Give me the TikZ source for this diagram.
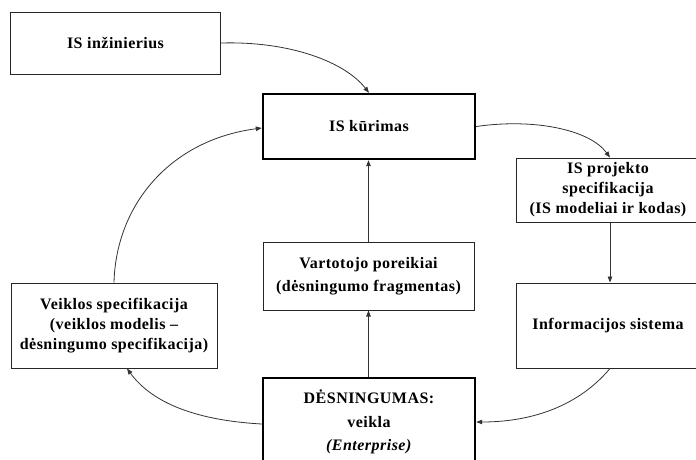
\documentclass[tikz,border=0pt]{standalone}
\usepackage{fontspec}
\setmainfont{Liberation Serif}[LetterSpace=3]
\usetikzlibrary{arrows.meta}
\tikzset{
  box/.style={draw=black!85, line width=1pt, inner sep=0pt, align=center,
    font=\fontsize{16}{20}\selectfont\bfseries},
  boldbox/.style={box, line width=2.4pt, draw=black},
  conn/.style={draw=black!80, line width=0.8pt,
    -{Triangle[length=6pt,width=4.5pt]}}
}
\begin{document}
\begin{tikzpicture}[x=1pt,y=-1pt]
\useasboundingbox (0,0) rectangle (696,459);
\clip (0,0) rectangle (696,459);
\fill[white] (0,0) rectangle (696,459);

% boxes
\node[box, minimum width=210, minimum height=62] (eng) at (115.5,43) {IS inžinierius};
\node[boldbox, minimum width=212, minimum height=65] (dev) at (369,126.5) {IS kūrimas};
\node[box, minimum width=184, minimum height=64] (spec) at (608,190)
  {IS projekto\\specifikacija\\(IS modeliai ir kodas)};
\node[box, minimum width=184, minimum height=85] (info) at (608,325.5) {Informacijos sistema};
\node[box, minimum width=211, minimum height=68,
  font=\fontsize{16}{23}\selectfont\bfseries] (need) at (368.5,276) 
  {Vartotojo poreikiai\\(dėsningumo fragmentas)};
\node[boldbox, minimum width=212, minimum height=88,
  font=\fontsize{16}{23.5}\selectfont\bfseries] (ent) at (369,422)
  {DĖSNINGUMAS:\\veikla\\\textit{(Enterprise)}};
\node[box, minimum width=206, minimum height=85] (bus) at (114,325.5)
  {Veiklos specifikacija\\(veiklos modelis –\\dėsningumo specifikacija)};

% connectors
\draw[conn] (eng.east) .. controls (290,41) and (345,62) .. (dev.north);
\draw[conn] (bus.north) .. controls (116,205) and (170,140) .. ([yshift=-1.5pt]dev.west);
\draw[conn] (dev.east) .. controls (535,118) and (590,130) .. ([xshift=2pt]spec.north);
\draw[conn] ([xshift=2pt]spec.south) -- ([xshift=2pt]info.north);
\draw[conn] ([xshift=2pt]info.south) .. controls (575,410) and (525,422) .. (ent.east);
\draw[conn] ([yshift=-2pt]ent.west) .. controls (190,420) and (150,400) .. ([xshift=13pt]bus.south);
\draw[conn] (ent.north -| need.south) -- (need.south);
\draw[conn] (need.north) -- (dev.south -| need.north);
\end{tikzpicture}
\end{document}
